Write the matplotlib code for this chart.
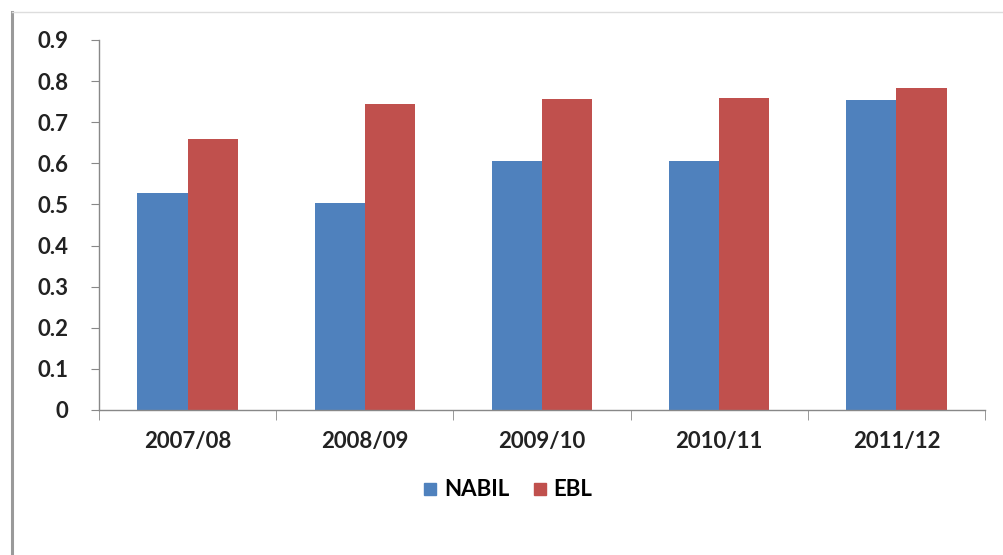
import matplotlib
matplotlib.use("Agg")
import matplotlib.pyplot as plt
from matplotlib.lines import Line2D
import numpy as np

categories = ["2007/08", "2008/09", "2009/10", "2010/11", "2011/12"]
nabil = [0.528, 0.504, 0.606, 0.606, 0.754]
ebl = [0.659, 0.745, 0.757, 0.759, 0.783]
yticks = [0, 0.1, 0.2, 0.3, 0.4, 0.5, 0.6, 0.7, 0.8, 0.9]
ytick_labels = ["0", "0.1", "0.2", "0.3", "0.4", "0.5", "0.6", "0.7", "0.8", "0.9"]

plt.rcParams['font.family'] = ['Lato', 'DejaVu Sans']

fig = plt.figure(figsize=(10.04, 5.55), dpi=100)
ax = fig.add_axes([99/1004, 1 - 410/555, (985-99)/1004, (410-40)/555])

x = np.arange(len(categories))
w = 0.283
ax.bar(x - w/2, nabil, w, color="#4F81BD", label="NABIL")
ax.bar(x + w/2, ebl, w, color="#C0504D", label="EBL")

ax.set_xlim(-0.5, len(categories) - 0.5)
ax.set_ylim(0, 0.9)
ax.set_yticks(yticks)
ax.set_yticklabels(ytick_labels, fontsize=16, fontweight="bold", color="#222222")
ax.set_xticks(x)
ax.set_xticklabels(categories, fontsize=16, fontweight="bold", color="#222222")
ax.set_xticks(np.arange(-0.5, len(categories) + 0.5, 1), minor=True)
ax.tick_params(axis="x", which="major", length=0, pad=15)
ax.tick_params(axis="x", which="minor", length=7, color="#888888", direction="out")
ax.tick_params(axis="y", length=6, color="#888888", pad=16)
for s in ["top", "right"]:
    ax.spines[s].set_visible(False)
for s in ["left", "bottom"]:
    ax.spines[s].set_color("#888888")
    ax.spines[s].set_linewidth(1)

handles = [Line2D([], [], marker="s", linestyle="none", markersize=9, color="#4F81BD"),
           Line2D([], [], marker="s", linestyle="none", markersize=9, color="#C0504D")]
fig.legend(handles, ["NABIL", "EBL"], loc="center", bbox_to_anchor=(507/1004, 1 - 490/555),
           ncol=2, frameon=False, prop={"size": 16, "weight": "bold"},
           handletextpad=0.2, columnspacing=1.0, handlelength=0.8)

# frame lines
fig.add_artist(Line2D([12/1004, 12/1004], [0, 1 - 12/555], color="#9a9a9a", linewidth=2.2, transform=fig.transFigure))
fig.add_artist(Line2D([12/1004, 1], [1 - 12/555, 1 - 12/555], color="#dddddd", linewidth=1, transform=fig.transFigure))

fig.savefig("out.png", dpi=100)
